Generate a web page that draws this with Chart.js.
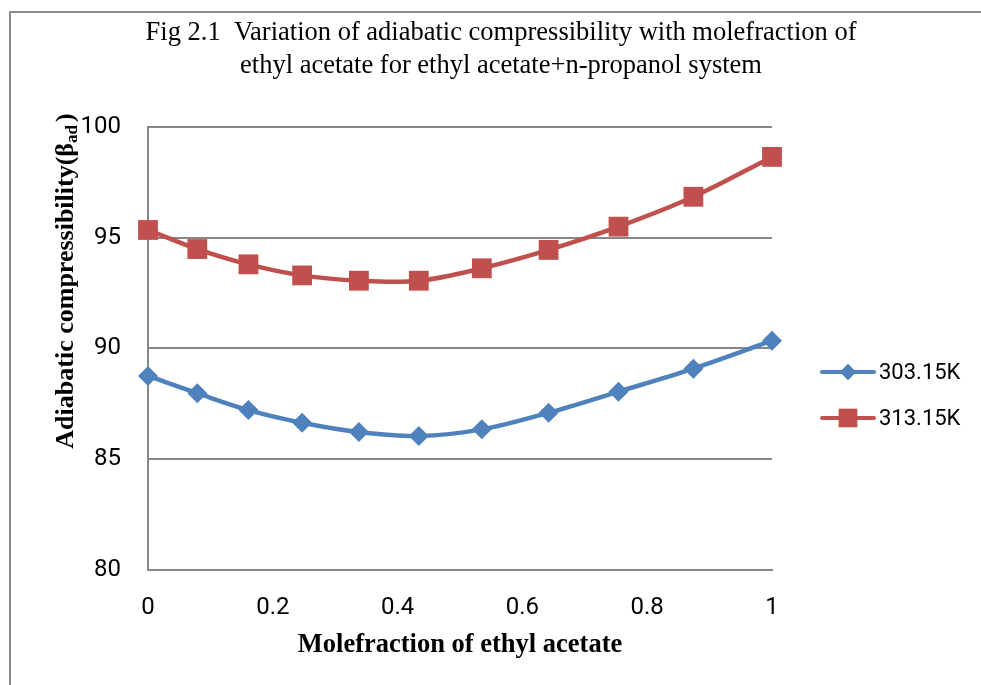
<!DOCTYPE html>
<html>
<head>
<meta charset="utf-8">
<script src="https://cdn.jsdelivr.net/npm/chart.js@4.4.1/dist/chart.umd.min.js"></script>
<style>
  html, body { margin: 0; padding: 0; background: #fff; overflow: hidden; }
  #wrap { width: 1002px; height: 685px; position: relative; }
</style>
</head>
<body>
<div id="wrap"><canvas id="chart"></canvas></div>
<script>
// ---- data ----
const moleFraction = [0, 0.079, 0.161, 0.247, 0.338, 0.434, 0.535, 0.642, 0.754, 0.874, 1];
const beta303 = [88.76, 87.98, 87.22, 86.65, 86.23, 86.05, 86.35, 87.10, 88.05, 89.09, 90.35];
const beta313 = [95.35, 94.49, 93.80, 93.30, 93.06, 93.06, 93.62, 94.45, 95.50, 96.85, 98.65];
const seriesNames = ["303.15K", "313.15K"];
const yTicks = [80, 85, 90, 95, 100];
const xTicks = [0, 0.2, 0.4, 0.6, 0.8, 1];

const BLUE = "#4F81BD";
const RED = "#C0504D";
const GRID = "#878787";
const SERIF = "'Liberation Serif', 'Times New Roman', serif";

function toPoints(xs, ys) {
  return xs.map((x, i) => ({ x, y: ys[i] }));
}

// frame, y title with subscript, legend
const extras = {
  id: "extras",
  beforeDraw(chart) {
    const ctx = chart.ctx;
    ctx.save();
    ctx.strokeStyle = "#8c8c8c";
    ctx.lineWidth = 2;
    ctx.strokeRect(10, 12, 985, 700);
    ctx.restore();
  },
  afterDraw(chart) {
    const ctx = chart.ctx;

    // y axis title
    const main = "Adiabatic compressibility(\u03B2";
    const sub = "ad";
    const close = ")";
    ctx.save();
    ctx.fillStyle = "#000";
    ctx.font = "bold 26px " + SERIF;
    const w1 = ctx.measureText(main).width;
    const w3 = ctx.measureText(close).width;
    ctx.font = "bold 17px " + SERIF;
    const w2 = ctx.measureText(sub).width;
    const total = w1 + w2 + 3 + w3;
    ctx.translate(73, 281 + total / 2);
    ctx.rotate(-Math.PI / 2);
    ctx.textAlign = "left";
    ctx.textBaseline = "alphabetic";
    ctx.font = "bold 26px " + SERIF;
    ctx.fillText(main, 0, 0);
    ctx.font = "bold 17px " + SERIF;
    ctx.fillText(sub, w1, 4);
    ctx.font = "bold 26px " + SERIF;
    ctx.fillText(close, w1 + w2 + 3, 0);
    ctx.restore();

    // legend
    const rows = [
      { y: 372, color: BLUE, style: "rectRot", r: 8 },
      { y: 418, color: RED, style: "rect", r: 13 }
    ];
    rows.forEach((row, i) => {
      ctx.save();
      ctx.strokeStyle = row.color;
      ctx.lineWidth = 4;
      ctx.lineCap = "round";
      ctx.beginPath();
      ctx.moveTo(822, row.y);
      ctx.lineTo(874, row.y);
      ctx.stroke();
      ctx.fillStyle = row.color;
      Chart.helpers.drawPoint(ctx, { pointStyle: row.style, radius: row.r, borderWidth: 0 }, 848, row.y);
      ctx.fill();
      ctx.fillStyle = "#000";
      ctx.font = "22px Roboto, sans-serif";
      ctx.textBaseline = "middle";
      ctx.fillText(seriesNames[i], 879, row.y + 1);
      ctx.restore();
    });
  }
};

new Chart(document.getElementById("chart"), {
  type: "line",
  data: {
    datasets: [
      {
        label: seriesNames[0],
        data: toPoints(moleFraction, beta303),
        borderColor: BLUE,
        backgroundColor: BLUE,
        borderWidth: 4.5,
        pointStyle: "rectRot",
        pointRadius: 10,
        pointBorderWidth: 0,
        tension: 0.35,
        clip: false
      },
      {
        label: seriesNames[1],
        data: toPoints(moleFraction, beta313),
        borderColor: RED,
        backgroundColor: RED,
        borderWidth: 4.5,
        pointStyle: "rect",
        pointRadius: 14,
        pointBorderWidth: 0,
        tension: 0.35,
        clip: false
      }
    ]
  },
  options: {
    responsive: true,
    maintainAspectRatio: false,
    animation: false,
    layout: { padding: 0 },
    plugins: {
      legend: { display: false },
      tooltip: { enabled: false },
      title: {
        display: true,
        text: [
          "Fig 2.1  Variation of adiabatic compressibility with molefraction of",
          "ethyl acetate for ethyl acetate+n-propanol system"
        ],
        color: "#000",
        font: { family: SERIF, size: 26.5, weight: "normal", lineHeight: 1.245 },
        padding: { top: 17, bottom: 44 }
      }
    },
    scales: {
      x: {
        type: "linear",
        min: 0,
        max: 1,
        afterFit: s => { s.height = 115; },
        afterBuildTicks: s => { s.ticks = xTicks.map(v => ({ value: v })); },
        grid: { display: false, drawTicks: false },
        border: { display: true, color: GRID, width: 2 },
        ticks: {
          color: "#000",
          padding: 24,
          maxRotation: 0,
          font: { family: "Roboto, sans-serif", size: 24 },
          callback: v => String(v)
        },
        title: {
          display: true,
          text: "Molefraction of ethyl acetate",
          color: "#000",
          font: { family: SERIF, size: 26.5, weight: "bold" },
          padding: { top: 0, bottom: 24 }
        }
      },
      y: {
        min: 80,
        max: 100,
        afterFit: s => { s.width = 148; },
        afterBuildTicks: s => { s.ticks = yTicks.map(v => ({ value: v })); },
        grid: { color: GRID, lineWidth: 2, drawTicks: false },
        border: { display: true, color: GRID, width: 2 },
        ticks: {
          color: "#000",
          padding: 27,
          font: { family: "Roboto, sans-serif", size: 24 }
        }
      },
      // empty right-hand axis that only reserves the legend space
      legendSpace: {
        type: "linear",
        position: "right",
        display: true,
        afterFit: s => { s.width = 230; },
        grid: { display: false, drawTicks: false },
        border: { display: false },
        ticks: { display: false }
      }
    }
  },
  plugins: [extras]
});
</script>
</body>
</html>
